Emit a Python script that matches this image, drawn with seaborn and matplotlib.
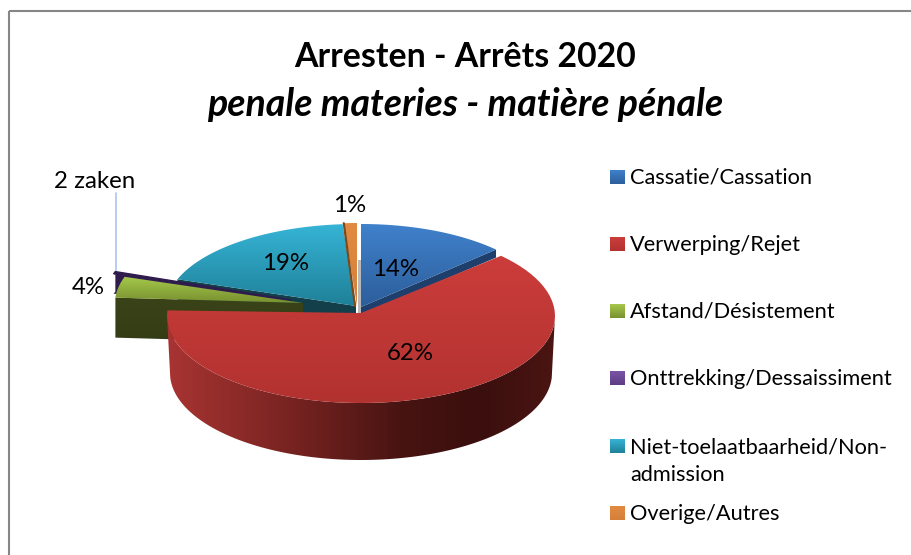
import numpy as np
import matplotlib
matplotlib.use("Agg")
import matplotlib.pyplot as plt
from matplotlib.colors import LinearSegmentedColormap
from matplotlib.patches import Polygon, Rectangle
import seaborn as sns

categories = ["Cassatie/Cassation", "Verwerping/Rejet", "Afstand/Désistement",
              "Onttrekking/Dessaissiment", "Niet-toelaatbaarheid/Non-\nadmission", "Overige/Autres"]
values = [14.0, 62.2, 3.6, 0.4, 18.9, 1.3]
pct_labels = ["14%", "62%", "4%", "2 zaken", "19%", "1%"]
title_line1 = "Arresten - Arrêts 2020"
title_line2 = "penale materies - matière pénale"

sns.set_theme(style="white")
plt.rcParams["font.family"] = ["Lato", "DejaVu Sans"]
top_hi = sns.color_palette(["#4081cc", "#cb3d3b", "#a6c94c", "#7b54a5", "#36b4d6", "#e18b42"])
top_lo = sns.color_palette(["#2c5e9a", "#b23230", "#78902f", "#5d3c85", "#1f8098", "#d67f38"])
side_col = ["#1e3f6c", "#7a2424", "#3a4318", "#2f1c4d", "#123f4a", "#7a4a1c"]

fig = plt.figure(figsize=(9.11, 5.55), dpi=100)
ax = fig.add_axes([0, 0, 1, 1])

# pie geometry in pixel space
centers = [(361, 307), (361, 316), (303, 303), (292, 300), (356, 308), (357, 306)]
apexes = [(361, 307), (361, 313), (303, 303), (292, 300), (356, 306), (357, 306)]
radii = [(187, 83), (194, 87), (188, 83), (188, 83), (190, 84), (187, 83)]
frac = np.array(values) / sum(values)
ends = 90 - 360 * np.cumsum(frac)
starts = np.r_[90, ends[:-1]]


def warp(deg):
    t = np.radians(deg)
    return np.arctan2(np.sin(t) * 1.15, np.cos(t))


def arc(i, a0, a1, n=80):
    t = np.linspace(a0, a1, n)
    p = warp(t)
    p = np.unwrap(p)
    cx, cy = centers[i]
    rx, ry = radii[i]
    return np.c_[cx + rx * np.cos(p), cy - ry * np.sin(p)]


def grad_fill(pts, c0, c1, z, horizontal=False, stops=None):
    pts = np.asarray(pts)
    patch = Polygon(pts, closed=True, fc="none", ec="none", zorder=z)
    ax.add_patch(patch)
    cols = stops if stops else [c0, c1]
    cmap = LinearSegmentedColormap.from_list("g", cols)
    g = np.linspace(0, 1, 256)
    g = g[None, :] if horizontal else g[:, None]
    x0, y0 = pts.min(axis=0)
    x1, y1 = pts.max(axis=0)
    im = ax.imshow(g, cmap=cmap, extent=(x0, x1, y1, y0), aspect="auto", zorder=z,
                   interpolation="bilinear", origin="upper")
    im.set_clip_path(patch)


def wedge(i):
    a = arc(i, starts[i], ends[i])
    return np.vstack([a, apexes[i]])


def side_radial(i, angle, depth):
    p = arc(i, angle, angle, 1)[0]
    c = np.array(apexes[i], float)
    return np.array([p, c, c + [0, depth], p + [0, depth]])


z = 2
# teal slice
ax.add_patch(Polygon(side_radial(4, starts[4], 22), fc=side_col[4], ec="none", zorder=z))
grad_fill(wedge(4), top_hi[4], top_lo[4], z + 0.1)
# orange slice
grad_fill(wedge(5), top_hi[5], top_lo[5], z + 0.2)
oa = arc(5, starts[5], starts[5], 1)[0]
ax.plot([oa[0], apexes[5][0] - 2], [oa[1], apexes[5][1]], color=side_col[5], lw=1.6, zorder=z + 0.3)
# gap shading beside the blue slice
ax.add_patch(Rectangle((358, 260), 3, 53, fc="#b8b8b8", ec="none", zorder=z + 0.25))
# blue slice
ax.add_patch(Polygon(side_radial(0, ends[0], 8), fc=side_col[0], ec="none", zorder=z + 0.4))
grad_fill(wedge(0), top_hi[0], top_lo[0], z + 0.5)
# purple sliver
pa = arc(3, starts[3], ends[3], 10)
ax.add_patch(Polygon(np.vstack([pa, pa[::-1] + [0, 20], apexes[3]]), fc=side_col[3], ec="none", zorder=z + 0.6))
ax.add_patch(Polygon(wedge(3), fc=side_col[3], ec=side_col[3], lw=1, zorder=z + 0.6))
# green slice
grad_fill(side_radial(2, starts[2], 40), "#3a4318", "#333c14", z + 0.7)
grad_fill(wedge(2), top_hi[2], top_lo[2], z + 0.8)
# red slice
rc = np.array(centers[1], float)
rx, ry = radii[1]
t = np.radians(np.linspace(-3, -177, 120))
lower = np.c_[rc[0] + rx * np.cos(t), rc[1] - ry * np.sin(t)]
bottom = np.c_[rc[0] + (rx - 3) * np.cos(t), rc[1] + 57 - ry * np.sin(t)]
grad_fill(np.vstack([lower, bottom[::-1]]), None, None, z + 0.9, horizontal=True,
          stops=["#a83432", "#8a2a28", "#6a1f1d", "#481412", "#3a0f0d", "#4a1513"])
grad_fill(wedge(1), top_hi[1], top_lo[1], z + 1.0)

# leader line for the smallest slice
ax.plot([116, 116], [193, 273], color="#a9c5ea", lw=1.2, zorder=1.5)

# data labels
label_pos = [(396, 269), (410, 354), (88, 288), (95, 182), (286, 263), (350, 206)]
for lab, (x, y) in zip(pct_labels, label_pos):
    ax.text(x, y, lab, ha="center", va="center", fontsize=17.3, color="black", zorder=6)

# titles
ax.text(465, 57, title_line1, ha="center", va="center", fontsize=24.4, fontweight="bold", color="black")
ax.text(465, 105, title_line2, ha="center", va="center", fontsize=27, fontweight="bold",
        style="italic", color="black")

# legend
legend_y = [178, 245, 312, 379, 461, 514]
marker_y = [177, 244, 311, 378, 446, 513]
for k, (lab, y, my) in enumerate(zip(categories, legend_y, marker_y)):
    grad_fill(np.array([(610, my - 7), (625, my - 7), (625, my + 7), (610, my + 7)]), top_hi[k], top_lo[k], 5)
    if "\n" in lab:
        ax.text(630, y, lab, ha="left", va="center", fontsize=15.7, color="black", linespacing=1.5)
    else:
        ax.text(630, y, lab, ha="left", va="center", fontsize=15.7, color="black")

# chart frame: the right and bottom edges run off the picture
ax.add_patch(Rectangle((9, 11), 930, 570, fc="none", ec="#868686", lw=1.5, zorder=7))

ax.set_xlim(0, 911)
ax.set_ylim(555, 0)
ax.axis("off")
fig.savefig("out.png", dpi=100, facecolor="white")
